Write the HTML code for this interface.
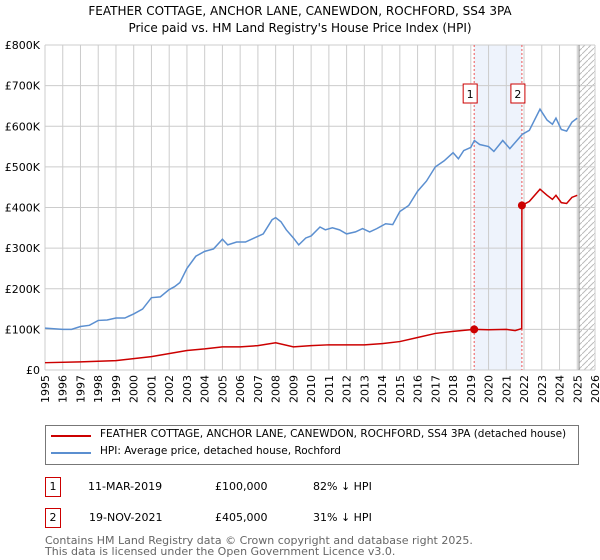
<!DOCTYPE html>
<html><head><meta charset="utf-8"><style>
body{margin:0;background:#fff;font-family:"DejaVu Sans","Liberation Sans",sans-serif;}
#c{position:relative;width:600px;height:560px;overflow:hidden;}
.t{position:absolute;font-size:11px;color:#000;white-space:nowrap;}
.box{position:absolute;border:1px solid #c00;width:14px;height:18px;font-size:11px;text-align:center;line-height:18px;}
</style></head><body>
<div id="c">
<div class="t" style="left:0;width:600px;text-align:center;top:4px;font-size:12px">FEATHER COTTAGE, ANCHOR LANE, CANEWDON, ROCHFORD, SS4 3PA</div>
<div class="t" style="left:0;width:600px;text-align:center;top:21px;font-size:12px">Price paid vs. HM Land Registry's House Price Index (HPI)</div>
<svg id="s" width="600" height="420" style="position:absolute;left:0;top:0"></svg>
<div style="position:absolute;left:45px;top:425px;width:532px;height:38px;border:1px solid #777;"></div>
<div style="position:absolute;left:51px;top:435px;width:40px;height:2px;background:#c00"></div>
<div class="t" style="left:100px;top:428px;font-size:10.5px">FEATHER COTTAGE, ANCHOR LANE, CANEWDON, ROCHFORD, SS4 3PA (detached house)</div>
<div style="position:absolute;left:51px;top:452px;width:40px;height:2px;background:#5b8fd0"></div>
<div class="t" style="left:100px;top:445px;font-size:10.5px">HPI: Average price, detached house, Rochford</div>
<div class="box" style="left:45px;top:477px">1</div>
<div class="t" style="left:88px;top:480px">11-MAR-2019</div>
<div class="t" style="left:215px;top:480px">£100,000</div>
<div class="t" style="left:313px;top:480px">82% ↓ HPI</div>
<div class="box" style="left:45px;top:508px">2</div>
<div class="t" style="left:89px;top:511px">19-NOV-2021</div>
<div class="t" style="left:215px;top:511px">£405,000</div>
<div class="t" style="left:313px;top:511px">31% ↓ HPI</div>
<div class="t" style="left:45px;top:535px;color:#666;font-size:11px;line-height:11px">Contains HM Land Registry data © Crown copyright and database right 2025.<br>This data is licensed under the Open Government Licence v3.0.</div>
</div>
<script>
const yTicks=[0,100,200,300,400,500,600,700,800];
const yTickLabels=["£0","£100K","£200K","£300K","£400K","£500K","£600K","£700K","£800K"];
const xYears=[1995,1996,1997,1998,1999,2000,2001,2002,2003,2004,2005,2006,2007,2008,2009,2010,2011,2012,2013,2014,2015,2016,2017,2018,2019,2020,2021,2022,2023,2024,2025,2026];
const hpiT=[1995,1996,1996.5,1997,1997.5,1998,1998.5,1999,1999.5,2000,2000.5,2001,2001.5,2002,2002.3,2002.6,2003,2003.5,2004,2004.5,2005,2005.3,2005.8,2006.3,2006.8,2007.3,2007.8,2008,2008.3,2008.6,2009,2009.3,2009.7,2010,2010.5,2010.8,2011.2,2011.6,2012,2012.5,2012.9,2013.3,2013.7,2014.2,2014.6,2015,2015.5,2016,2016.5,2017,2017.5,2018,2018.3,2018.6,2019,2019.2,2019.5,2020,2020.3,2020.8,2021.2,2021.6,2021.9,2022.3,2022.9,2023.3,2023.6,2023.8,2024.1,2024.4,2024.7,2025];
const hpiV=[103,100,100,107,110,122,123,128,128,138,150,178,180,198,205,215,250,280,292,298,322,308,315,315,325,335,370,375,365,345,325,308,325,330,352,345,350,345,335,340,348,340,348,360,358,390,405,440,465,500,515,535,520,540,548,565,555,550,538,565,545,565,580,590,642,615,605,620,592,588,610,620];
const ppT=[1995,1997,1999,2001,2003,2004,2005,2006,2007,2008,2009,2010,2011,2013,2014,2015,2016,2017,2018,2019.19,2020,2021,2021.5,2021.87,2021.88,2022.3,2022.9,2023.3,2023.6,2023.8,2024.1,2024.4,2024.7,2025];
const ppV=[18,20,23,33,48,52,57,57,60,67,57,60,62,62,65,70,80,90,95,100,99,100,97,102,405,415,445,430,420,430,412,410,425,430];
const sales=[{t:2019.19,v:100,n:"1"},{t:2021.88,v:405,n:"2"}];
const x0=45,x1=595,y0=370,y1=45;
const X=t=>x0+(t-1995)/31*(x1-x0), Y=v=>y0-(v/800)*(y0-y1);
const s=document.getElementById('s'),NS="http://www.w3.org/2000/svg";
function mk(tag,a,name){const e=document.createElementNS(NS,tag);for(const k in a)e.setAttribute(k,a[k]);


s.appendChild(e);return e;}
mk('rect',{x:X(sales[0].t),y:y1,width:X(sales[1].t)-X(sales[0].t),height:y0-y1,fill:'#eef3fc'},'sale-period-shade');
const pat=document.createElementNS(NS,'pattern');pat.setAttribute('id','h');pat.setAttribute('width','6');pat.setAttribute('height','6');pat.setAttribute('patternUnits','userSpaceOnUse');
pat.innerHTML='<path d="M0,6 L6,0" stroke="#bbb" stroke-width="1"/>';s.appendChild(pat);
mk('rect',{x:X(2025.1),y:y1,width:x1-X(2025.1),height:y0-y1,fill:'url(#h)'},'forecast-hatch');
xYears.forEach(yr=>{mk('line',{x1:X(yr),x2:X(yr),y1:y1,y2:y0,stroke:'#ccc'},'x-grid');
const px=X(yr)+4,py=375;
const t=mk('text',{x:px,y:py,'font-size':11,'text-anchor':'end',transform:'rotate(-90 '+px+' '+py+')','font-family':'DejaVu Sans, sans-serif'},'x-tick-label');t.textContent=yr;});
yTicks.forEach((v,i)=>{mk('line',{x1:x0,x2:x1,y1:Y(v),y2:Y(v),stroke:'#ccc'},'y-grid');
const t=mk('text',{x:40,y:Y(v)+4,'font-size':11,'text-anchor':'end','font-family':'DejaVu Sans, sans-serif'},'y-tick-label');t.textContent=yTickLabels[i];});
mk('line',{x1:X(2025.1),x2:X(2025.1),y1:y1,y2:y0,stroke:'#888'},'forecast-edge');
sales.forEach(sl=>mk('line',{x1:X(sl.t),x2:X(sl.t),y1:y1,y2:y0,stroke:'#e55','stroke-dasharray':'2,2'},'sale-vline'));
mk('polyline',{points:hpiT.map((t,i)=>X(t)+','+Y(hpiV[i])).join(' '),fill:'none',stroke:'#5b8fd0','stroke-width':1.5},'hpi-line');
mk('polyline',{points:ppT.map((t,i)=>X(t)+','+Y(ppV[i])).join(' '),fill:'none',stroke:'#c00','stroke-width':1.5},'property-line');
sales.forEach(sl=>{mk('circle',{cx:X(sl.t),cy:Y(sl.v),r:4,fill:'#c00'},'sale-point');
mk('rect',{x:X(sl.t)-11,y:84,width:14,height:19,fill:'#fff',stroke:'#c00'},'sale-label-box');
const t=mk('text',{x:X(sl.t)-4,y:98,'font-size':11,'text-anchor':'middle','font-family':'DejaVu Sans, sans-serif'},'sale-label');t.textContent=sl.n;});
</script>
</body></html>
